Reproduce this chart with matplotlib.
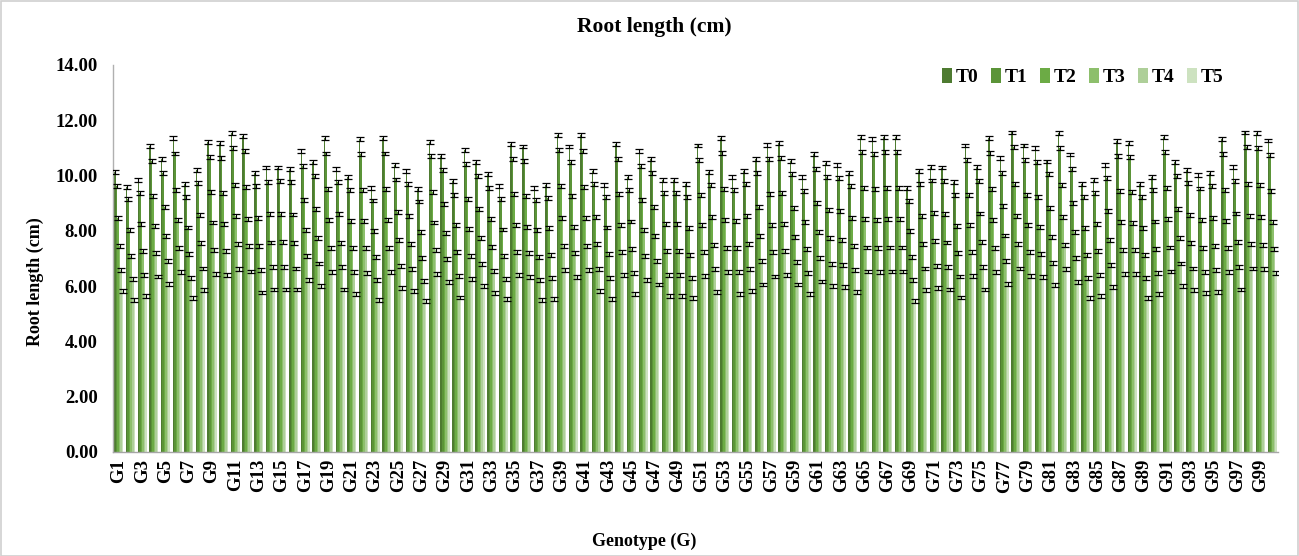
import matplotlib
matplotlib.use('Agg')
import matplotlib.pyplot as plt
import numpy as np
from matplotlib.patches import Rectangle

plt.rcParams['font.family'] = ['Liberation Serif', 'DejaVu Serif']
plt.rcParams['font.weight'] = 'bold'

genotypes = [f"G{i}" for i in range(1, 101)]
treatments = ["T0", "T1", "T2", "T3", "T4", "T5"]

T0 = [10.12, 9.60, 9.84, 11.07, 10.59, 11.35, 9.69, 10.20, 11.21, 11.17,
      11.55, 11.43, 10.10, 10.29, 10.29, 10.23, 10.88, 10.49, 11.35, 10.25,
      9.96, 11.32, 9.56, 11.35, 10.37, 10.18, 9.51, 11.23, 10.71, 9.79,
      10.91, 10.48, 10.06, 9.61, 11.13, 11.05, 9.55, 9.65, 11.47, 11.05,
      11.46, 10.15, 9.66, 11.13, 9.94, 10.88, 10.60, 9.83, 9.84, 9.68,
      11.09, 10.13, 11.36, 9.95, 10.17, 10.59, 11.11, 11.17, 10.54, 9.94,
      10.77, 10.45, 10.39, 10.09, 11.38, 11.32, 11.38, 11.38, 9.54, 10.18,
      10.31, 10.29, 9.76, 11.09, 10.31, 11.35, 10.62, 11.56, 11.09, 11.00,
      10.51, 11.53, 10.76, 9.68, 9.84, 10.39, 11.25, 11.19, 9.69, 9.95,
      11.38, 10.48, 10.20, 10.01, 10.08, 11.32, 10.30, 11.56, 11.53, 11.27]

T1 = [9.63, 9.14, 9.38, 10.53, 10.10, 10.80, 9.22, 9.72, 10.68, 10.65,
      10.99, 10.88, 9.62, 9.78, 9.79, 9.77, 10.36, 9.98, 10.80, 9.78,
      9.49, 10.79, 9.10, 10.80, 9.86, 9.68, 9.06, 10.70, 10.19, 9.31,
      10.41, 9.97, 9.55, 9.15, 10.61, 10.53, 9.12, 9.19, 10.92, 10.50,
      10.89, 9.68, 9.21, 10.59, 9.48, 10.35, 10.08, 9.36, 9.38, 9.22,
      10.56, 9.66, 10.82, 9.48, 9.71, 10.08, 10.59, 10.63, 10.06, 9.45,
      10.25, 9.95, 9.90, 9.61, 10.85, 10.78, 10.85, 10.85, 9.09, 9.71,
      9.82, 9.79, 9.30, 10.56, 9.80, 10.82, 10.10, 11.02, 10.56, 10.48,
      10.05, 10.99, 10.24, 9.22, 9.37, 9.90, 10.71, 10.66, 9.22, 9.48,
      10.85, 9.98, 9.73, 9.53, 9.61, 10.78, 9.80, 11.02, 10.99, 10.73]

T2 = [8.48, 8.04, 8.26, 9.27, 8.86, 9.49, 8.12, 8.57, 9.42, 9.38,
      9.66, 9.60, 8.46, 8.62, 8.61, 8.59, 9.12, 8.79, 9.51, 8.62,
      8.37, 9.49, 8.01, 9.51, 8.68, 8.55, 7.97, 9.42, 8.97, 8.22,
      9.15, 8.79, 8.44, 8.05, 9.33, 9.26, 8.03, 8.10, 9.62, 9.26,
      9.60, 8.51, 8.12, 9.33, 8.34, 9.12, 8.86, 8.25, 8.25, 8.10,
      9.30, 8.50, 9.51, 8.36, 8.55, 8.86, 9.33, 9.37, 8.83, 8.32,
      9.02, 8.75, 8.73, 8.46, 9.55, 9.50, 9.55, 9.55, 8.01, 8.54,
      8.65, 8.62, 8.18, 9.30, 8.63, 9.51, 8.90, 9.69, 9.30, 9.22,
      8.84, 9.66, 9.01, 8.10, 8.25, 8.73, 9.44, 9.41, 8.10, 8.34,
      9.55, 8.79, 8.57, 8.39, 8.46, 9.49, 8.63, 9.69, 9.66, 9.44]

T3 = [7.45, 7.10, 7.28, 8.16, 7.81, 8.39, 7.15, 7.56, 8.30, 8.25,
      8.53, 8.43, 7.45, 7.58, 7.61, 7.55, 8.02, 7.75, 8.39, 7.57,
      7.38, 8.37, 7.07, 8.39, 7.67, 7.51, 7.03, 8.30, 7.91, 7.22,
      8.07, 7.73, 7.42, 7.09, 8.21, 8.14, 7.07, 7.13, 8.46, 8.14,
      8.45, 7.51, 7.15, 8.21, 7.35, 8.03, 7.81, 7.26, 7.27, 7.14,
      8.20, 7.49, 8.40, 7.37, 7.51, 7.81, 8.21, 8.26, 7.79, 7.33,
      7.95, 7.73, 7.68, 7.45, 8.42, 8.38, 8.42, 8.42, 7.05, 7.54,
      7.62, 7.58, 7.20, 8.20, 7.60, 8.39, 7.83, 8.54, 8.20, 8.14,
      7.77, 8.50, 7.95, 7.14, 7.26, 7.68, 8.31, 8.29, 7.14, 7.35,
      8.42, 7.75, 7.55, 7.38, 7.45, 8.37, 7.60, 8.54, 8.50, 8.32]

T4 = [6.57, 6.25, 6.41, 7.19, 6.90, 7.37, 6.31, 6.64, 7.30, 7.26,
      7.51, 7.44, 6.58, 6.69, 6.69, 6.64, 7.08, 6.82, 7.38, 6.68,
      6.50, 7.38, 6.21, 7.38, 6.74, 6.61, 6.20, 7.30, 6.97, 6.37,
      7.10, 6.80, 6.54, 6.25, 7.22, 7.19, 6.22, 6.28, 7.46, 7.19,
      7.44, 6.61, 6.28, 7.22, 6.46, 7.08, 6.90, 6.39, 6.40, 6.29,
      7.22, 6.61, 7.39, 6.50, 6.61, 6.90, 7.22, 7.26, 6.86, 6.46,
      7.02, 6.80, 6.75, 6.57, 7.40, 7.37, 7.40, 7.40, 6.21, 6.64,
      6.72, 6.69, 6.35, 7.22, 6.69, 7.38, 6.90, 7.52, 7.22, 7.15,
      6.85, 7.49, 7.01, 6.29, 6.39, 6.75, 7.31, 7.30, 6.29, 6.46,
      7.40, 6.82, 6.64, 6.50, 6.57, 7.37, 6.69, 7.52, 7.49, 7.33]

T5 = [5.81, 5.49, 5.63, 6.35, 6.08, 6.50, 5.56, 5.85, 6.43, 6.39,
      6.61, 6.53, 5.77, 5.88, 5.88, 5.88, 6.21, 6.00, 6.50, 5.88,
      5.72, 6.46, 5.49, 6.50, 5.92, 5.81, 5.45, 6.43, 6.14, 5.59,
      6.25, 5.99, 5.75, 5.52, 6.39, 6.32, 5.49, 5.52, 6.57, 6.32,
      6.57, 5.81, 5.52, 6.39, 5.72, 6.21, 6.06, 5.63, 5.63, 5.56,
      6.37, 5.80, 6.50, 5.72, 5.81, 6.06, 6.35, 6.39, 6.06, 5.72,
      6.17, 5.99, 5.96, 5.78, 6.53, 6.50, 6.53, 6.53, 5.46, 5.85,
      5.92, 5.88, 5.59, 6.37, 5.88, 6.50, 6.09, 6.64, 6.37, 6.32,
      6.04, 6.61, 6.16, 5.56, 5.63, 5.96, 6.45, 6.43, 5.56, 5.72,
      6.53, 6.00, 5.85, 5.74, 5.78, 6.50, 5.88, 6.64, 6.61, 6.46]

# approximate standard error shown on every bar (same for all treatments)
errors = [0.07, 0.07, 0.07, 0.07, 0.07, 0.07]

series = [T0, T1, T2, T3, T4, T5]
colors = ["#4e7b31", "#5b9438", "#6cab45", "#8dbf6c", "#aecf99", "#cde2c0"]

W, H = 1299, 556
fig = plt.figure(figsize=(W / 100, H / 100), dpi=100)
fig.patch.set_facecolor('white')
ax = fig.add_axes([113 / W, (H - 452) / H, (1278 - 113) / W, (452 - 65) / H])

x = np.arange(len(genotypes))
bw = 0.13
for i, (name, vals, col, err) in enumerate(zip(treatments, series, colors, errors)):
    pos = x + (i - 2.5) * bw
    ax.bar(pos, vals, width=bw, color=col, label=name, linewidth=0, zorder=2)
    ax.errorbar(pos, vals, yerr=err, fmt='none', ecolor='black',
                elinewidth=0.8, capsize=3.0, capthick=0.9, zorder=3)

ax.set_xlim(-0.5, len(genotypes) - 0.5)
ax.set_ylim(0, 14)
ax.set_yticks(np.arange(0, 15, 2))
ax.set_yticklabels([f"{v:.2f}" for v in np.arange(0, 15, 2)], fontsize=13.5, fontweight='bold')
ax.set_xticks(x[::2])
ax.set_xticklabels(genotypes[::2], rotation=90, fontsize=13.5, fontweight='bold')
ax.tick_params(axis='y', length=0, pad=11)
ax.tick_params(axis='x', length=0, pad=5)
for s in ['top', 'right']:
    ax.spines[s].set_visible(False)
ax.spines['left'].set_color('#b0b0b0')
ax.spines['bottom'].set_color('#a6a6a6')
ax.spines['left'].set_linewidth(1.0)
ax.spines['bottom'].set_linewidth(1.0)

fig.text(654 / W, 1 - 27 / H, "Root length (cm)", ha='center', va='center',
         fontsize=15.5, fontweight='bold')
fig.text(35 / W, 1 - 282 / H, "Root length (cm)", ha='center', va='center',
         rotation=90, fontsize=13, fontweight='bold')
fig.text(644 / W, 1 - 541 / H, "Genotype (G)", ha='center', va='center',
         fontsize=13, fontweight='bold')

fig.legend(loc='center', bbox_to_anchor=((948 + 1218) / 2 / W, 1 - 77 / H), ncol=6,
           frameon=False, handlelength=0.5, handleheight=0.85,
           handletextpad=0.2, columnspacing=0.65, prop={'weight': 'bold', 'size': 14})

fig.add_artist(Rectangle((0.5 / W, 0.5 / H), 1 - 1.5 / W, 1 - 1.5 / H,
                         transform=fig.transFigure, fill=False,
                         edgecolor='#d0d0d0', linewidth=1.2))

fig.savefig('out.png', dpi=100)
